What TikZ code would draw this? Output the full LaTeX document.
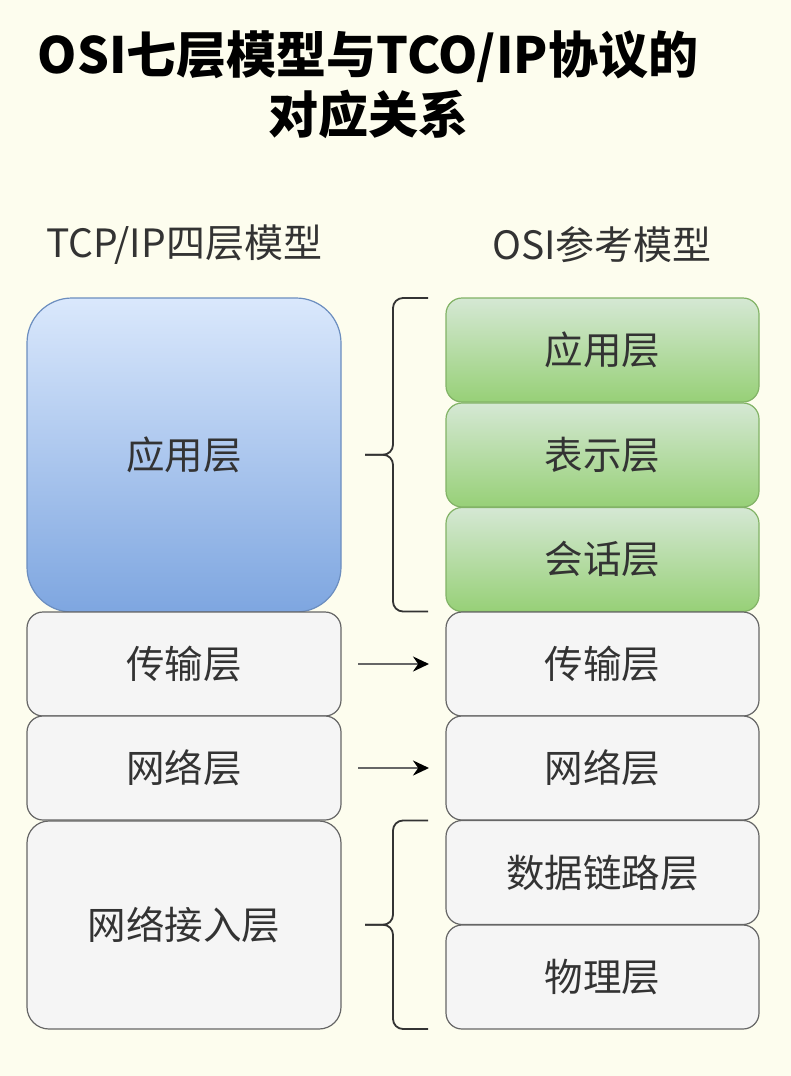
\documentclass[tikz,border=0pt]{standalone}
\usepackage{fontspec}
\setmainfont{Noto Sans CJK SC}
\usetikzlibrary{arrows.meta, calc}

\definecolor{paper}{HTML}{FDFDEE}
\definecolor{txt}{HTML}{333333}
\definecolor{grayline}{HTML}{666666}
\definecolor{grayfill}{HTML}{F5F5F5}
\definecolor{blueline}{HTML}{6C8EBF}
\definecolor{bluetop}{HTML}{DAE8FC}
\definecolor{bluebot}{HTML}{7EA6E0}
\definecolor{greenline}{HTML}{82B366}
\definecolor{greentop}{HTML}{D5E8D4}
\definecolor{greenbot}{HTML}{97D077}

\begin{document}
\begin{tikzpicture}[x=1pt, y=-1pt, font=\fontsize{38.5}{46}\selectfont,
    layer/.style={draw=grayline, fill=grayfill, text=txt, line width=1.2pt,
      rounded corners=16pt, minimum width=314pt, minimum height=104pt,
      inner sep=0pt, outer sep=0pt},
    blue layer/.style={layer, draw=blueline, top color=bluetop, bottom color=bluebot},
    green layer/.style={layer, draw=greenline, top color=greentop, bottom color=greenbot},
    heading/.style={text=txt, font=\fontsize{39}{46}\selectfont},
    maps to/.style={draw=grayline, line width=2.6pt,
      -{Stealth[length=16pt, width=15pt, black]},
      shorten <=17pt, shorten >=17pt},
    brace/.style={draw=txt, line width=1.8pt, rounded corners=10pt}]

    \useasboundingbox (0,0) rectangle (791,1076);
    \fill[paper] (0,0) rectangle (791,1076);

    % Title
    \node[align=center, font=\bfseries\fontsize{50}{60}\selectfont] (title) at (368,85)
      {OSI七层模型与TCO/IP协议的\\对应关系};

    % Headings
    \node[heading] (tcpHead) at (184,245) {TCP/IP四层模型};
    \node[heading] (osiHead) at (602,245) {OSI参考模型};

    % TCP/IP four layers
    \node[blue layer, minimum height=314pt, rounded corners=45pt] (tApp) at (184,455) {应用层};
    \node[layer] (tTrans) at (184,664) {传输层};
    \node[layer] (tNet) at (184,768) {网络层};
    \node[layer, minimum height=208pt, rounded corners=22pt] (tLink) at (184,925) {网络接入层};

    % OSI seven layers
    \node[green layer, minimum width=313pt] (oApp) at (602.5,350) {应用层};
    \node[green layer, minimum width=313pt] (oPres) at (602.5,455) {表示层};
    \node[green layer, minimum width=313pt] (oSess) at (602.5,559.5) {会话层};
    \node[layer, minimum width=313pt] (oTrans) at (602.5,664) {传输层};
    \node[layer, minimum width=313pt] (oNet) at (602.5,768) {网络层};
    \node[layer, minimum width=313pt] (oLink) at (602.5,872.5) {数据链路层};
    \node[layer, minimum width=313pt] (oPhys) at (602.5,977) {物理层};

    % one to one
    \draw[maps to] (tTrans.east) -- (oTrans.west);
    \draw[maps to] (tNet.east) -- (oNet.west);

    % Braces
    \coordinate (appTip) at ($(oApp.north west)!0.5!(oSess.south west)+(-81,0)$);
    \draw[brace] ([xshift=-18pt]oApp.north west) -- ([xshift=-53pt]oApp.north west)
      -- ($(appTip)+(28,0)$) -- (appTip);
    \draw[brace] ([xshift=-18pt]oSess.south west) -- ([xshift=-53pt]oSess.south west)
      -- ($(appTip)+(28,0)$) -- (appTip);

    \coordinate (linkTip) at ($(oLink.north west)!0.5!(oPhys.south west)+(-81,0)$);
    \draw[brace] ([xshift=-18pt]oLink.north west) -- ([xshift=-53pt]oLink.north west)
      -- ($(linkTip)+(28,0)$) -- (linkTip);
    \draw[brace] ([xshift=-18pt]oPhys.south west) -- ([xshift=-53pt]oPhys.south west)
      -- ($(linkTip)+(28,0)$) -- (linkTip);

\end{tikzpicture}
\end{document}
